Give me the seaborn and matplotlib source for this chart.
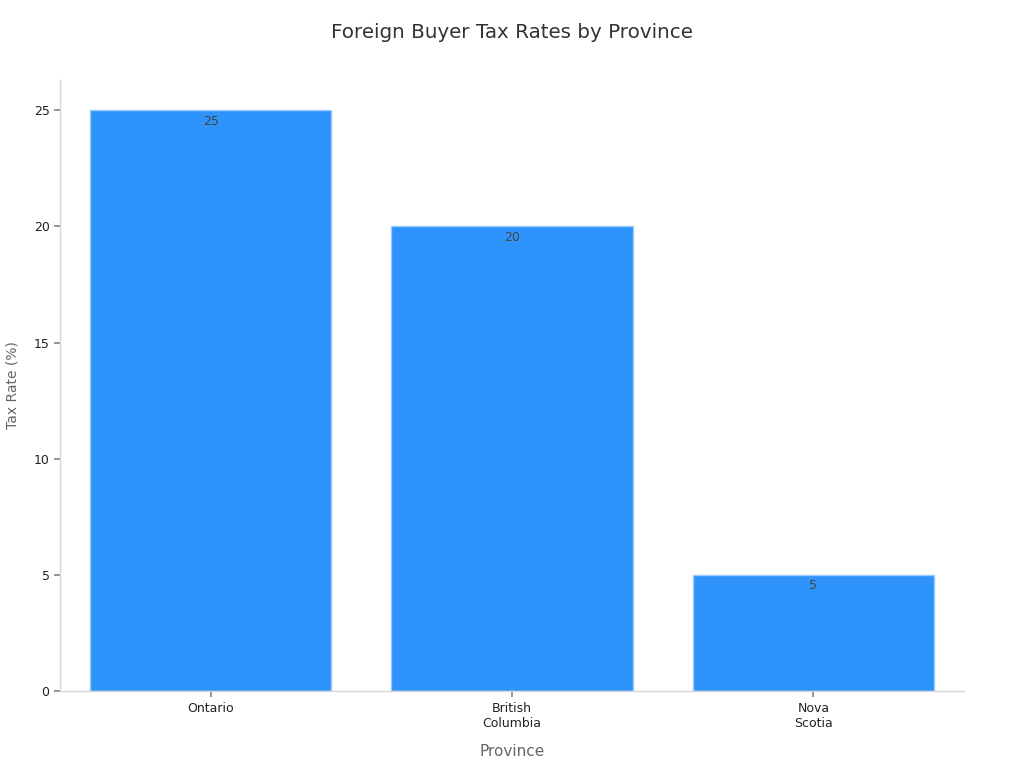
import matplotlib

matplotlib.use("Agg")
import matplotlib.pyplot as plt
import pandas as pd
import seaborn as sns

provinces = ["Ontario", "British\nColumbia", "Nova\nScotia"]
tax_rates = [25, 20, 5]

BAR_COLOR = "#2E93FA"

sns.set_theme(style="white")
plt.rcParams["font.family"] = ["DejaVu Sans"]

df = pd.DataFrame({"province": provinces, "rate": tax_rates})

fig = plt.figure(figsize=(10.24, 7.68), dpi=100)
ax = fig.add_axes([0.0586, 0.1003, 0.8828, 0.7955])

sns.barplot(data=df, x="province", y="rate", color=BAR_COLOR, width=0.8,
            saturation=1, edgecolor="#9CCBFB", linewidth=1, ax=ax)

for patch, val in zip(ax.patches, tax_rates):
    ax.text(patch.get_x() + patch.get_width() / 2, val - 0.2, f"{val}",
            ha="center", va="top", fontsize=9, color="#444444")

ax.set_xlim(-0.5, 2.5)
ax.set_ylim(0, 26.3)
ax.set_yticks([0, 5, 10, 15, 20, 25])
ax.tick_params(axis="both", labelsize=9, colors="#222222", length=4,
               color="#888888", left=True, bottom=True)
ax.tick_params(axis="x", pad=4)

for side in ["top", "right"]:
    ax.spines[side].set_visible(False)
for side in ["left", "bottom"]:
    ax.spines[side].set_color("#D6D6D6")
    ax.spines[side].set_linewidth(1)

ax.set_xlabel("Province", fontsize=11, color="#666666", labelpad=10)
ax.set_ylabel("Tax Rate (%)", fontsize=10, color="#666666", labelpad=10)
fig.suptitle("Foreign Buyer Tax Rates by Province", fontsize=14.3,
             color="#333333", y=0.97)

fig.savefig("out.png", dpi=100)
plt.close(fig)
